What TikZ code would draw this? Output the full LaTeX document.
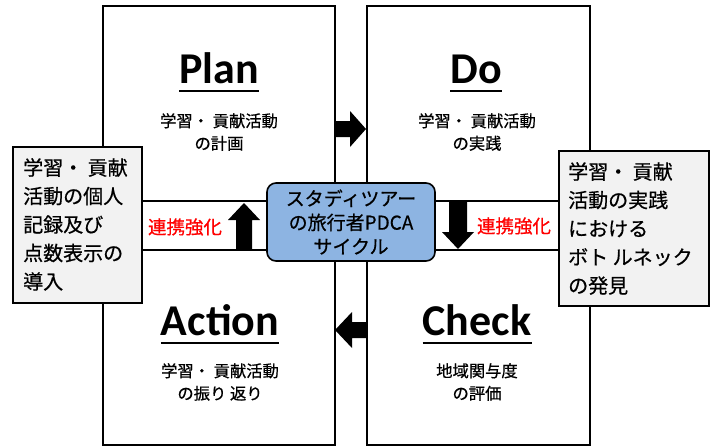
\documentclass[tikz,border=0pt]{standalone}
\usepackage{fontspec}
\setmainfont{Liberation Sans}
\newfontfamily\jpfont[FakeBold=0.6]{Noto Sans CJK JP}
\newfontfamily\titlefont{Carlito}
\definecolor{notegray}{HTML}{F2F2F2}
\definecolor{hubblue}{HTML}{8DB4E2}
\definecolor{linkred}{HTML}{FF0000}
\begin{document}
\begin{tikzpicture}[x=1pt,y=-1pt,
  phase/.style={draw, line width=1.6pt, fill=white, inner sep=0pt},
  notebox/.style={draw, line width=1.4pt, fill=notegray, inner sep=0pt},
  hub/.style={draw, line width=1.6pt, fill=hubblue, rounded corners=9pt, inner sep=0pt},
  titletext/.style={font=\titlefont\bfseries\fontsize{44}{44}\selectfont, inner sep=0pt, anchor=base},
  subtext/.style={font=\jpfont\fontsize{16.3}{22.5}\selectfont, align=center, inner sep=0pt},
  notetext/.style={font=\jpfont\fontsize{20}{28.5}\selectfont, align=left, inner sep=0pt, anchor=north west},
  hubtext/.style={font=\jpfont\fontsize{19}{24}\selectfont, align=center, inner sep=0pt},
  linktext/.style={font=\jpfont\fontsize{18.5}{18.5}\selectfont, text=linkred, inner sep=0pt},
  blockarrow/.style={fill=black},
  uline/.style={line width=2.6pt}
]
\useasboundingbox (0,0) rectangle (711,447);

% four phase boxes
\node[phase, minimum width=232, minimum height=195] (plan)   at (219,103.5) {};
\node[phase, minimum width=223, minimum height=195] (do)     at (478.5,103.5) {};
\node[phase, minimum width=232, minimum height=195] (action) at (219,347.5) {};
\node[phase, minimum width=223, minimum height=195] (check)  at (478.5,347.5) {};

% side notes
\node[notebox, minimum width=129, minimum height=156] (lnote) at (77.5,225) {};
\node[notebox, minimum width=150, minimum height=155] (rnote) at (634,228.5) {};

% hub
\node[hub, minimum width=168, minimum height=78] (hubbox) at (351,222) {};
\node[hubtext] (hubt) at (hubbox.center) {スタディツアー\\の旅行者PDCA\\サイクル};

% block arrows
\fill[blockarrow] (335,121) -- (350,121) -- (350,111) -- (366,129) -- (350,147) -- (350,137) -- (335,137) -- cycle;
\fill[blockarrow] (367,322) -- (352,322) -- (352,312) -- (335,330) -- (352,348) -- (352,338) -- (367,338) -- cycle;
\fill[blockarrow] (449,201) -- (467,201) -- (467,232) -- (474,232) -- (458,249) -- (442,232) -- (449,232) -- cycle;
\fill[blockarrow] (236,250) -- (252,250) -- (252,220) -- (260,220) -- (244,203) -- (228,220) -- (236,220) -- cycle;

% titles
\node[titletext] (tplan) at (219,83) {Plan};
\node[titletext] (tdo) at (476,83) {Do};
\node[titletext] (taction) at (220,335) {Action};
\node[titletext] (tcheck) at (477,335) {Check};
\foreach \t in {tplan,tdo,taction,tcheck}
  \draw[uline] ([yshift=-8pt]\t.base west) -- ([yshift=-8pt]\t.base east);

% sub texts
\node[subtext] (splan) at (219,132) {学習・ 貢献活動\\の計画};
\node[subtext] (sdo) at (477,132) {学習・ 貢献活動\\の実践};
\node[subtext] (saction) at (220,382) {学習・ 貢献活動\\の振り 返り};
\node[subtext] (scheck) at (477,382) {地域関与度\\の評価};

% note texts
\node[notetext] (lnotet) at (23,158) {学習・ 貢献\\活動の個人\\記録及び\\点数表示の\\導入};
\node[notetext] (rnotet) at (568,162) {学習・ 貢献\\活動の実践\\における\\ボト ルネック\\の発見};

% link labels
\node[linktext] (llink) at (185,227) {連携強化};
\node[linktext] (rlink) at (514,226) {連携強化};
\end{tikzpicture}
\end{document}
